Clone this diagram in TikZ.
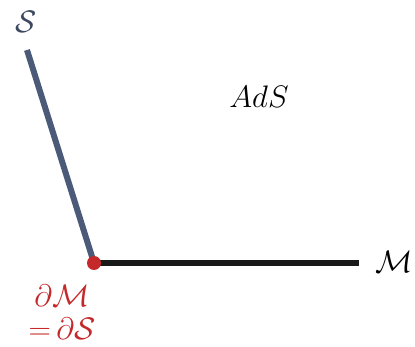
\documentclass[tikz,border=0pt]{standalone}
\usepackage{amsmath,amssymb}
\usepackage{graphicx}
\usepackage{xcolor}
\usetikzlibrary{positioning,calc}
\definecolor{sheetBlue}{HTML}{4A5A78}
\definecolor{edgeRed}{HTML}{C4282A}
\newcommand{\bigmath}[1]{\scalebox{1.25}{\Huge$#1$}}

\begin{document}
\begin{tikzpicture}[
    x=1pt, y=-1pt,
    bigLabel/.style={inner sep=0pt},
    redLabel/.style={bigLabel, text=edgeRed},
    sheet/.style={line width=6pt, sheetBlue},
    bdry/.style={line width=6pt, black!90}
]
\useasboundingbox (0,0) rectangle (415,347);

\coordinate (corner) at (94,263);
\coordinate (stop) at (27,50);
\coordinate (mend) at (359,263);

\draw[sheet] (stop) -- (corner);
\draw[bdry] (corner) -- (mend);
\node[circle, fill=edgeRed, minimum size=14pt, inner sep=0pt] (dot) at (corner) {};

\node[bigLabel, text=sheetBlue!80!black] (slabel) at (26,22) {\bigmath{\mathcal{S}}};
\node[bigLabel] (mlabel) at (394,262) {\bigmath{\mathcal{M}}};
\node[bigLabel] (ads) at (259,97) {\bigmath{AdS}};
\node[redLabel] (dm) at (62,296) {\bigmath{\partial\mathcal{M}}};
\node[redLabel] (ds) at (62,329) {\bigmath{{=}\,\partial\mathcal{S}}};

\end{tikzpicture}
\end{document}
